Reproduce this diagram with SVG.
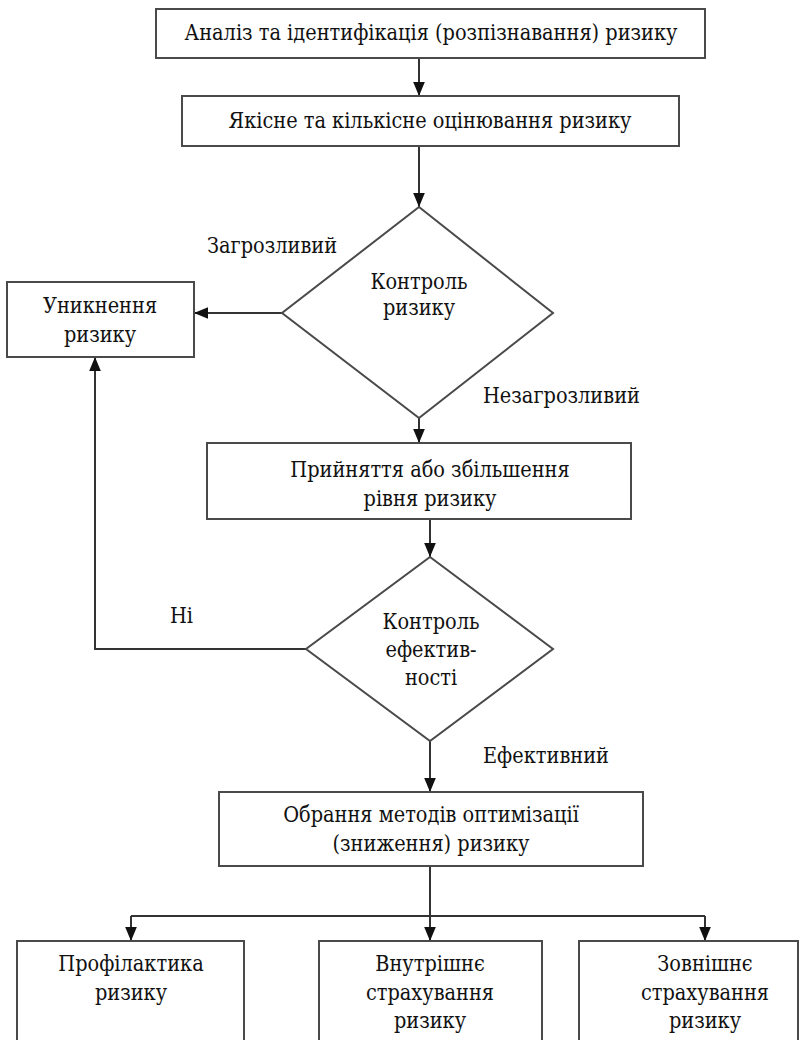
<svg xmlns="http://www.w3.org/2000/svg" width="801" height="1040" viewBox="0 0 801 1040">
  <defs>
    <style>
      .box { fill: #fff; stroke: #4a4a4a; stroke-width: 2; }
      .line { fill: none; stroke: #333; stroke-width: 2; }
      text { font-family: "DejaVu Serif Condensed", "DejaVu Serif", serif; font-stretch: condensed; font-size: 21.5px; fill: #111; }
      .t { text-anchor: middle; }
    </style>
    <marker id="arrow" viewBox="0 0 12 12" refX="12" refY="6" markerWidth="14" markerHeight="14" markerUnits="userSpaceOnUse" orient="auto">
      <path d="M0,1 L12,6 L0,11 Z" fill="#111"/>
    </marker>
  </defs>
  <rect width="801" height="1040" fill="#fff"/>

  <!-- connectors -->
  <g id="connectors">
    <path class="line" d="M419,58 V96" marker-end="url(#arrow)"/>
    <path class="line" d="M419,146 V207" marker-end="url(#arrow)"/>
    <path class="line" d="M282,313 H194" marker-end="url(#arrow)"/>
    <path class="line" d="M419,418 V443" marker-end="url(#arrow)"/>
    <path class="line" d="M430,519 V557" marker-end="url(#arrow)"/>
    <path class="line" d="M306,649 H95 V357" marker-end="url(#arrow)"/>
    <path class="line" d="M430,741 V792" marker-end="url(#arrow)"/>
    <path class="line" d="M430,866 V941" marker-end="url(#arrow)"/>
    <path class="line" d="M131,916 H705"/>
    <path class="line" d="M131,916 V941" marker-end="url(#arrow)"/>
    <path class="line" d="M705,916 V941" marker-end="url(#arrow)"/>
  </g>

  <g id="analysis">
    <rect class="box" x="156" y="9" width="549" height="49"/>
    <text class="t" x="431" y="40">Аналіз та ідентифікація (розпізнавання) ризику</text>
  </g>
  <g id="assessment">
    <rect class="box" x="182" y="96" width="497" height="50"/>
    <text class="t" x="430" y="128">Якісне та кількісне оцінювання ризику</text>
  </g>
  <g id="risk-control">
    <polygon class="box" points="419,207 553,313 419,418 282,313"/>
    <text class="t" x="419" y="289">Контроль</text>
    <text class="t" x="419" y="315">ризику</text>
  </g>
  <text x="207" y="253">Загрозливий</text>
  <text x="483" y="403">Незагрозливий</text>
  <g id="avoidance">
    <rect class="box" x="7" y="282" width="187" height="75"/>
    <text class="t" x="100" y="313">Уникнення</text>
    <text class="t" x="100" y="342">ризику</text>
  </g>
  <g id="acceptance">
    <rect class="box" x="207" y="443" width="424" height="76"/>
    <text class="t" x="430" y="477">Прийняття або збільшення</text>
    <text class="t" x="430" y="506">рівня ризику</text>
  </g>
  <g id="efficiency-control">
    <polygon class="box" points="430,557 553,649 430,741 306,649"/>
    <text class="t" x="431" y="629">Контроль</text>
    <text class="t" x="431" y="657">ефектив-</text>
    <text class="t" x="431" y="685">ності</text>
  </g>
  <text x="170" y="623">Ні</text>
  <text x="483" y="763">Ефективний</text>
  <g id="method-choice">
    <rect class="box" x="219" y="792" width="424" height="74"/>
    <text class="t" x="431" y="822">Обрання методів оптимізації</text>
    <text class="t" x="431" y="851">(зниження) ризику</text>
  </g>
  <g id="prevention">
    <rect class="box" x="17" y="941" width="227" height="110"/>
    <text class="t" x="131" y="971">Профілактика</text>
    <text class="t" x="131" y="1000">ризику</text>
  </g>
  <g id="internal-insurance">
    <rect class="box" x="319" y="941" width="223" height="110"/>
    <text class="t" x="430" y="971">Внутрішнє</text>
    <text class="t" x="430" y="1000">страхування</text>
    <text class="t" x="430" y="1028">ризику</text>
  </g>
  <g id="external-insurance">
    <rect class="box" x="579" y="941" width="219" height="110"/>
    <text class="t" x="705" y="971">Зовнішнє</text>
    <text class="t" x="705" y="1000">страхування</text>
    <text class="t" x="705" y="1028">ризику</text>
  </g>
</svg>
